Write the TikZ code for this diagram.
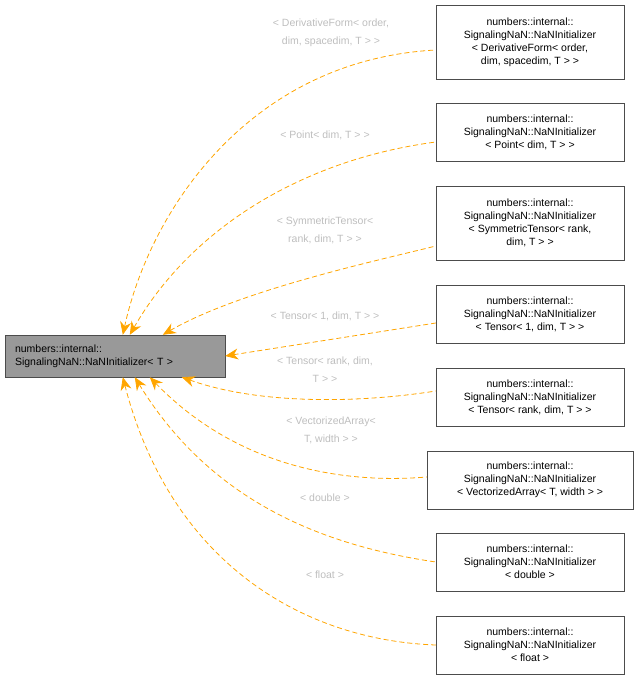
\documentclass[tikz,border=0pt]{standalone}
\usepackage{fontspec}
\setmainfont{Liberation Sans}
\usetikzlibrary{positioning,arrows.meta}
\definecolor{edgeorange}{RGB}{255,165,0}
\definecolor{lblgray}{RGB}{190,190,190}
\begin{document}
\begin{tikzpicture}[x=1pt,y=-1pt,
    font=\fontsize{10.5}{13}\selectfont,
    cls/.style={draw=black!70,fill=white,align=center,inner sep=3pt,minimum width=188pt},
    inh/.style={<-,>={Stealth[length=13pt,width=11pt]},draw=edgeorange,dash pattern=on 5pt off 3pt,line width=0.8pt},
    lbl/.style={text=lblgray,align=center,font=\fontsize{10.5}{18}\selectfont}]
  \useasboundingbox (0,0) rectangle (638,680);
  %%%%% BASE CLASS
  \node[draw=black!70,fill=black!40,align=left,text width=200pt,minimum height=42pt,inner xsep=10pt,inner ysep=4pt] (base) at (115,356)
    {numbers::internal::\\SignalingNaN::NaNInitializer< T >};
  %%%%% SPECIALIZATIONS
  \node[cls,minimum height=74pt] (deriv) at (530,42) {numbers::internal::\\SignalingNaN::NaNInitializer\\< DerivativeForm< order,\\ dim, spacedim, T > >};
  \node[cls,minimum height=58pt] (point) at (530,132) {numbers::internal::\\SignalingNaN::NaNInitializer\\< Point< dim, T > >};
  \node[cls,minimum height=74pt] (symt) at (530,223) {numbers::internal::\\SignalingNaN::NaNInitializer\\< SymmetricTensor< rank,\\ dim, T > >};
  \node[cls,minimum height=58pt] (tens1) at (530,314) {numbers::internal::\\SignalingNaN::NaNInitializer\\< Tensor< 1, dim, T > >};
  \node[cls,minimum height=58pt] (tensr) at (530,397) {numbers::internal::\\SignalingNaN::NaNInitializer\\< Tensor< rank, dim, T > >};
  \node[cls,minimum height=58pt,minimum width=206pt] (vect) at (530,480) {numbers::internal::\\SignalingNaN::NaNInitializer\\< VectorizedArray< T, width > >};
  \node[cls,minimum height=58pt] (dbl) at (530,562) {numbers::internal::\\SignalingNaN::NaNInitializer\\< double >};
  \node[cls,minimum height=58pt] (flt) at (530,645) {numbers::internal::\\SignalingNaN::NaNInitializer\\< float >};
  %%%%% INHERITANCE LINKS
  \draw[inh] ([xshift=118pt]base.north west) .. controls (150,210) and (250,60) .. ([yshift=-8pt]deriv.west);
  \draw[inh] ([xshift=125pt]base.north west) .. controls (190,230) and (300,160) .. ([yshift=-10pt]point.west);
  \draw[inh] ([xshift=158pt]base.north west) .. controls (240,290) and (380,260) .. ([yshift=-23pt]symt.west);
  \draw[inh] (base.east) -- ([yshift=-9pt]tens1.west);
  \draw[inh] ([xshift=177pt]base.south west) .. controls (260,405) and (360,403) .. ([yshift=6pt]tensr.west);
  \draw[inh] ([xshift=145pt]base.south west) .. controls (230,460) and (330,485) .. ([yshift=3pt]vect.west);
  \draw[inh] ([xshift=130pt]base.south west) .. controls (210,500) and (320,545) .. (dbl.west);
  \draw[inh] ([xshift=118pt]base.south west) .. controls (170,560) and (300,640) .. (flt.west);
  %%%%% LABELS
  \node[lbl] at (331,33) {< DerivativeForm< order,\\dim, spacedim, T > >};
  \node[lbl] at (325,135) {< Point< dim, T > >};
  \node[lbl] at (325,230) {< SymmetricTensor<\\rank, dim, T > >};
  \node[lbl] at (325,316) {< Tensor< 1, dim, T > >};
  \node[lbl] at (325,370) {< Tensor< rank, dim,\\T > >};
  \node[lbl] at (331,430) {< VectorizedArray<\\T, width > >};
  \node[lbl] at (325,498) {< double >};
  \node[lbl] at (325,575) {< float >};
\end{tikzpicture}
\end{document}
